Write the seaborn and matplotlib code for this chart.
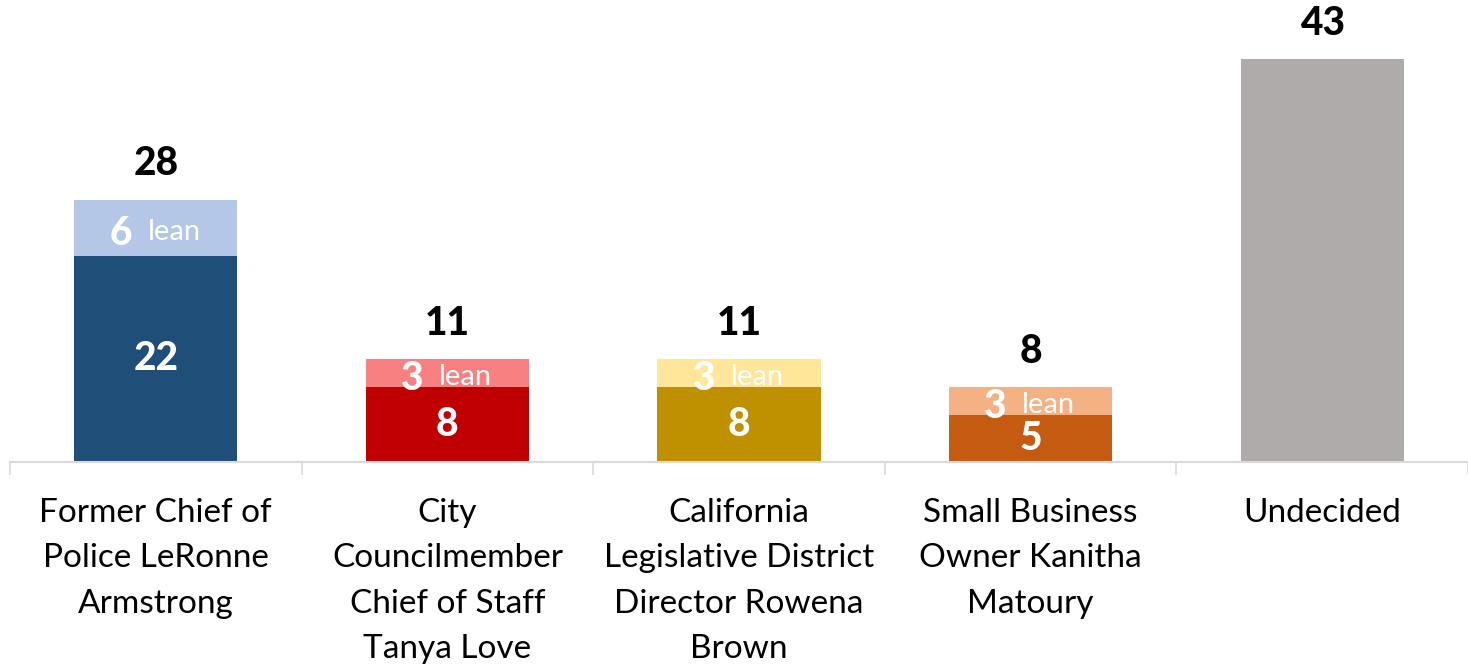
import matplotlib
matplotlib.use("Agg")
import numpy as np
import pandas as pd
import matplotlib.pyplot as plt
import seaborn as sns


# Data
categories = [
    "Former Chief of\nPolice LeRonne\nArmstrong",
    "City\nCouncilmember\nChief of Staff\nTanya Love",
    "California\nLegislative District\nDirector Rowena\nBrown",
    "Small Business\nOwner Kanitha\nMatoury",
    "Undecided",
]
firm = [22, 8, 8, 5, 43]
lean = [6, 3, 3, 3, 0]
totals = [f + l for f, l in zip(firm, lean)]

firm_colors = ["#1F4E79", "#C00000", "#BF9000", "#C55A11", "#AFABAB"]
lean_colors = ["#B4C7E7", "#F88080", "#FFE699", "#F4B183", "#AFABAB"]


df = pd.DataFrame({"cat": categories, "firm": firm, "lean": lean, "total": totals})

sns.set_style("white")
plt.rcParams["font.family"] = ["Lato", "DejaVu Sans"]

fig = plt.figure(figsize=(14.68, 6.66), dpi=100)
ax = fig.add_axes([10 / 1468, 204 / 666, 1 - 10 / 1468, 462 / 666])

# lean part drawn as full bar, firm part on top of it
sns.barplot(data=df, x="cat", y="total", hue="cat", palette=lean_colors,
            width=0.56, saturation=1, legend=False, linewidth=0, ax=ax)
sns.barplot(data=df, x="cat", y="firm", hue="cat", palette=firm_colors,
            width=0.56, saturation=1, legend=False, linewidth=0, ax=ax)

ax.set_xlim(-0.5, len(categories) - 0.5)
ax.set_ylim(0, 49.3)
ax.set_xlabel("")
ax.set_ylabel("")
ax.set_yticks([])

for s in ["top", "right", "left"]:
    ax.spines[s].set_visible(False)
ax.spines["bottom"].set_color("#D9D9D9")
ax.spines["bottom"].set_linewidth(1.5)

# category separators
ax.set_xticks(np.arange(len(categories) + 1) - 0.5, minor=True)
ax.tick_params(axis="x", which="minor", length=9, width=1.2, color="#D9D9D9",
               direction="out", bottom=True)
ax.tick_params(axis="x", which="major", length=0, pad=26, labelsize=24)
for t in ax.get_xticklabels():
    t.set_linespacing(1.64)
    t.set_color("#000000")

# labels
for i in range(len(categories)):
    ax.text(i, totals[i] + 3.8, str(totals[i]), ha="center", va="center",
            fontsize=28, fontweight=900, color="black")
    if i < 4:
        ax.text(i, firm[i] / 2, str(firm[i]), ha="center", va="center",
                fontsize=28, fontweight=900, color="white")
    if lean[i] > 0:
        ymid = firm[i] + lean[i] / 2
        ax.annotate(str(lean[i]), (i, ymid), xytext=(-17, -4),
                    textcoords="offset points", ha="right", va="center",
                    fontsize=28, fontweight=900, color="white")
        ax.annotate("lean", (i, ymid), xytext=(-6, -3),
                    textcoords="offset points", ha="left", va="center",
                    fontsize=21, color="white")

plt.savefig("out.png", dpi=100)
